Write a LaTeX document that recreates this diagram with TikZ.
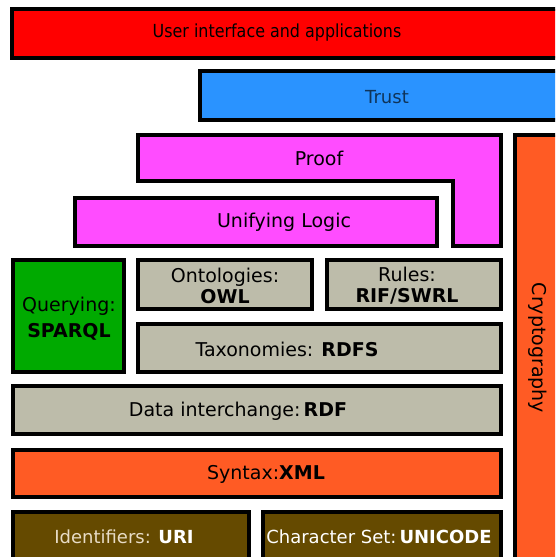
\documentclass[tikz,border=0pt]{standalone}
\usepackage{fontspec}
\setmainfont{DejaVu Sans}
\definecolor{uired}{HTML}{FF0000}
\definecolor{trustblue}{HTML}{2A93FF}
\definecolor{logicmag}{HTML}{FF4CFF}
\definecolor{cryptor}{HTML}{FF5B24}
\definecolor{querygreen}{HTML}{00AA00}
\definecolor{rdfgrey}{HTML}{BDBCAA}
\definecolor{basebrown}{HTML}{654A00}
\definecolor{lighttext}{HTML}{E8DCC6}
\tikzset{
  layer/.style={draw=black, line width=4pt, line join=miter},
  lbl/.style={inner sep=0pt, font=\fontsize{19}{21}\selectfont, align=center},
  lblsmall/.style={inner sep=0pt, font=\fontsize{18}{21}\selectfont, align=center},
}
\begin{document}
\begin{tikzpicture}[x=1pt,y=-1pt]
\useasboundingbox (0,0) rectangle (555,557);
\clip (0,0) rectangle (555,557);
% boxes
\draw[layer, fill=uired] (12,9) rectangle (600,58);
\draw[layer, fill=trustblue] (200,71) rectangle (600,120);
\draw[layer, fill=logicmag] (138,135) -- (501,135) -- (501,246) -- (452.5,246) -- (452.5,181) -- (138,181) -- cycle;
\draw[layer, fill=logicmag] (74.6,198) rectangle (437,246);
\draw[layer, fill=cryptor] (515,135) rectangle (600,600);
\draw[layer, fill=querygreen] (12.6,260) rectangle (123.7,372);
\draw[layer, fill=rdfgrey] (138,260) rectangle (312,309);
\draw[layer, fill=rdfgrey] (326.6,260) rectangle (500.6,309);
\draw[layer, fill=rdfgrey] (138,323.7) rectangle (500.6,372);
\draw[layer, fill=rdfgrey] (12.6,386) rectangle (500.6,433.7);
\draw[layer, fill=cryptor] (12.6,449.7) rectangle (500.6,497);
\draw[layer, fill=basebrown] (12.6,512) rectangle (249,600);
\draw[layer, fill=basebrown] (263,512) rectangle (500.6,600);
% labels
\node[lblsmall, xscale=0.885] (ui) at (277,33) {User interface and applications};
\node[lblsmall, text=black!65!trustblue] (trust) at (387,97) {Trust};
\node[lbl] (proof) at (319,158) {Proof};
\node[lbl] (logic) at (284,222) {Unifying Logic};
\node[lbl, rotate=-90] (crypto) at (538,348) {Cryptography};
\node[lbl] (query) at (69,319) {Querying:\\[5pt]\textbf{SPARQL}};
\node[lbl] (owl) at (225,285.5) {Ontologies:\\\textbf{OWL}};
\node[lbl] (rules) at (407,285.5) {Rules:\\\textbf{RIF/SWRL}};
\node[lbl] (rdfs) at (287,349) {Taxonomies: \textbf{RDFS}};
\node[lbl] (rdf) at (238,411) {Data interchange:\,\textbf{RDF}};
\node[lbl] (xml) at (266,474) {Syntax:\textbf{XML}};
\node[lblsmall, text=lighttext] (uri) at (124,537) {Identifiers: \textcolor{white}{\textbf{URI}}};
\node[lblsmall, text=white] (uni) at (379,537) {Character Set:\,\textbf{UNICODE}};
\end{tikzpicture}
\end{document}
